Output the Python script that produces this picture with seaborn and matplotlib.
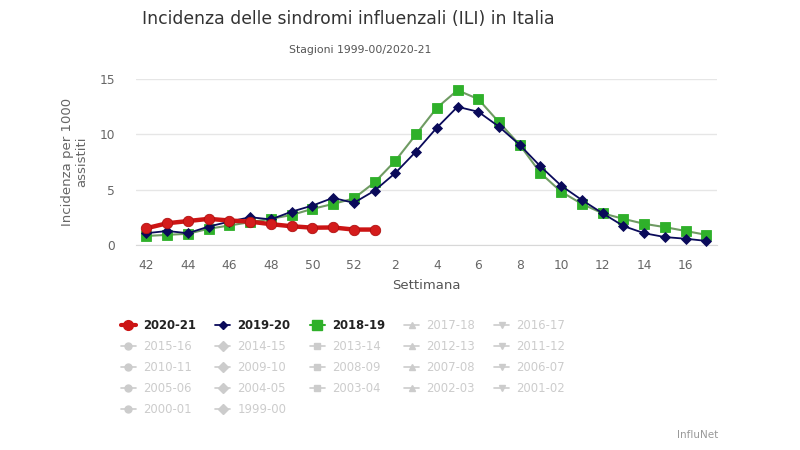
import matplotlib
matplotlib.use("Agg")
import matplotlib.pyplot as plt
from matplotlib.lines import Line2D
import seaborn as sns
import pandas as pd

# --- Dati ---
weeks = ["42", "43", "44", "45", "46", "47", "48", "49", "50", "51", "52",
         "1", "2", "3", "4", "5", "6", "7", "8", "9", "10", "11", "12",
         "13", "14", "15", "16", "17"]

ili_2020_21 = [1.5, 1.95, 2.15, 2.35, 2.2, 2.1, 1.87, 1.68, 1.55, 1.57, 1.38, 1.38]
ili_2019_20 = [1.05, 1.25, 1.05, 1.65, 2.1, 2.5, 2.3, 3.0, 3.55, 4.25, 3.8, 4.9,
               6.5, 8.45, 10.6, 12.5, 12.05, 10.7, 9.05, 7.1, 5.35, 4.05, 2.85,
               1.7, 1.05, 0.7, 0.55, 0.35]
ili_2018_19 = [0.8, 0.9, 1.0, 1.45, 1.75, 2.05, 2.35, 2.7, 3.25, 3.7, 4.2, 5.65,
               7.6, 10.0, 12.4, 14.0, 13.2, 11.1, 9.05, 6.5, 4.8, 3.7, 2.85,
               2.35, 1.9, 1.6, 1.25, 0.9]

seasons = ["2020-21", "2019-20", "2018-19", "2017-18", "2016-17",
           "2015-16", "2014-15", "2013-14", "2012-13", "2011-12",
           "2010-11", "2009-10", "2008-09", "2007-08", "2006-07",
           "2005-06", "2004-05", "2003-04", "2002-03", "2001-02",
           "2000-01", "1999-00"]
marker_cycle = ["o", "D", "s", "^", "v"]

sns.set_style("white")
plt.rcParams["font.family"] = ["DejaVu Sans"]

fig = plt.figure(figsize=(8, 4.5), dpi=100)
ax = fig.add_axes([0.17, 0.456, 0.726, 0.368])

# --- Serie ---
series = [
    (ili_2019_20, "#0a0a5a", "#0a0a5a", "D", 5, 1.3, 3),
    (ili_2018_19, "#6f9b63", "#2fb02a", "s", 7, 1.5, 2),
    (ili_2020_21, "#cc1414", "#d41c1c", "o", 7.5, 3.2, 4),
]
for vals, lc, mc, mk, ms, lw, z in series:
    df = pd.DataFrame({"pos": range(len(vals)), "val": vals})
    sns.lineplot(data=df, x="pos", y="val", ax=ax, color=lc, linewidth=lw,
                 marker=mk, markersize=ms, markerfacecolor=mc,
                 markeredgecolor=mc if mk != "o" else "#b01010",
                 markeredgewidth=0.6, zorder=z, clip_on=False)

# --- Assi ---
ax.set_xlim(-0.5, len(weeks) - 0.5)
ax.set_ylim(0, 15)
ax.set_yticks([0, 5, 10, 15])
ax.set_xticks(range(0, len(weeks), 2))
ax.set_xticklabels(weeks[::2])
ax.grid(axis="y", color="#e6e6e6", linewidth=1)
for s in ["top", "right", "left"]:
    ax.spines[s].set_visible(False)
ax.spines["bottom"].set_color("#d8d8d8")
ax.tick_params(axis="both", length=0, labelsize=8.8, colors="#666666")
ax.tick_params(axis="x", pad=10)
ax.tick_params(axis="y", pad=15)
ax.set_xlabel("Settimana", fontsize=9.5, color="#555555", labelpad=5)
ax.set_ylabel("Incidenza per 1000\nassistiti", fontsize=9.5, color="#666666",
              labelpad=8, linespacing=1.1)

fig.text(0.435, 0.958, "Incidenza delle sindromi influenzali (ILI) in Italia",
         ha="center", va="center", fontsize=12.4, color="#333333")
fig.text(0.45, 0.888, "Stagioni 1999-00/2020-21", ha="center", va="center",
         fontsize=7.8, color="#555555")
fig.text(0.8975, 0.033, "InfluNet", ha="right", va="center", fontsize=7.5,
         color="#999999")

# --- Legenda (righe come nell'originale) ---
active = {"2020-21": ("#cc1414", "o", 3.0, 7),
          "2019-20": ("#0a0a5a", "D", 1.3, 4.5),
          "2018-19": ("#2fb02a", "s", 1.5, 6.5)}
handles = []
for i, s in enumerate(seasons):
    if s in active:
        c, m, lw, ms = active[s]
    else:
        c, m, lw, ms = "#cccccc", marker_cycle[i % 5], 1.2, 5
    handles.append(Line2D([], [], color=c, marker=m, linewidth=lw, markersize=ms))

ncol = 5
nrows = (len(seasons) + ncol - 1) // ncol
order = [r * ncol + c for c in range(ncol) for r in range(nrows)
         if r * ncol + c < len(seasons)]
leg = fig.legend([handles[i] for i in order], [seasons[i] for i in order],
                 ncol=ncol, loc="upper left", bbox_to_anchor=(0.138, 0.315),
                 frameon=False, fontsize=8.4, handlelength=1.3,
                 handletextpad=0.6, columnspacing=1.65, labelspacing=0.7)
for txt in leg.get_texts():
    if txt.get_text() in active:
        txt.set_color("#222222")
        txt.set_fontweight("bold")
    else:
        txt.set_color("#cccccc")

fig.savefig("out.png", dpi=100)
